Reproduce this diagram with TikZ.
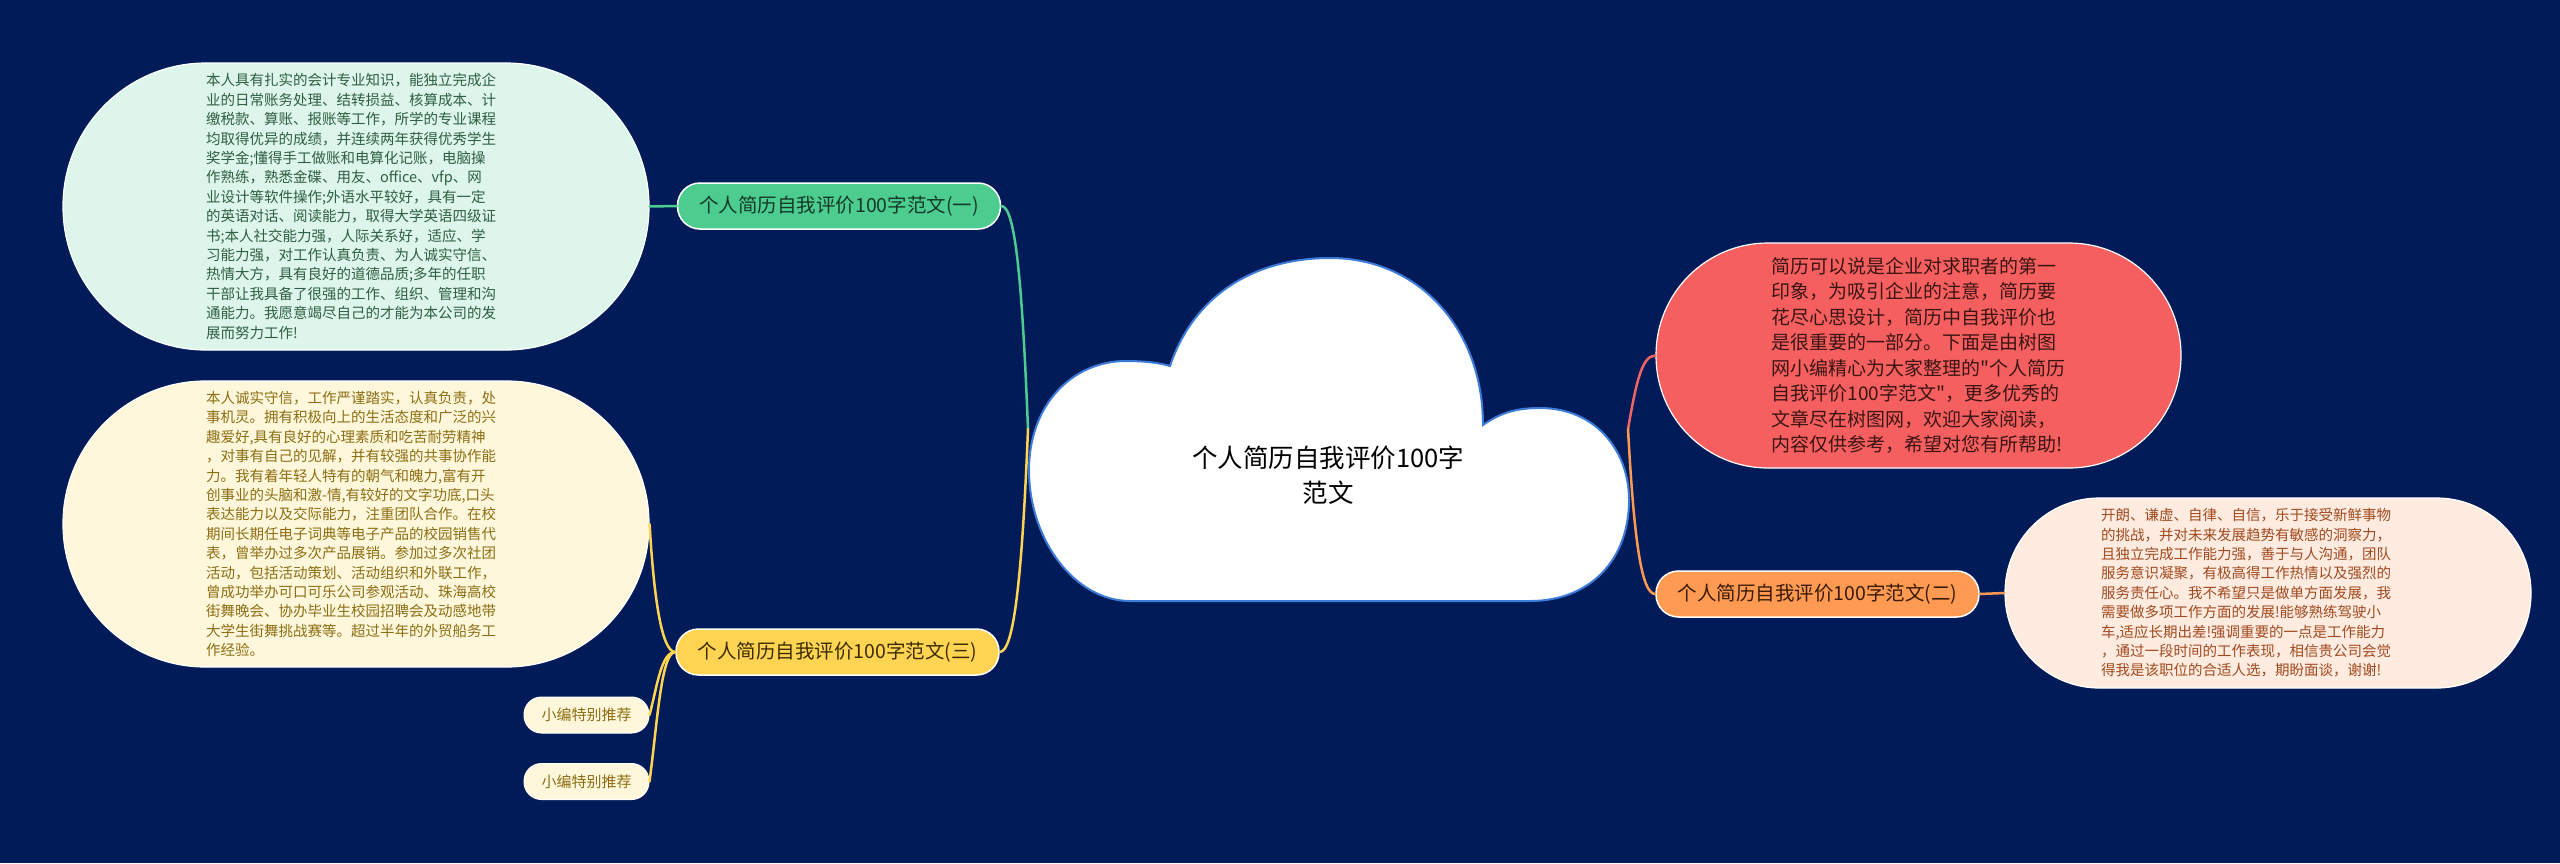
\documentclass[tikz,border=0pt]{standalone}
\usepackage{fontspec}
\newfontfamily\cjk{Noto Sans CJK SC}
\usetikzlibrary{calc}
\definecolor{bg}{HTML}{001B57}
\definecolor{cloudline}{HTML}{3D7BD9}
\definecolor{gnode}{HTML}{4CCD8F}
\definecolor{gleaf}{HTML}{DDF5EA}
\definecolor{gtext}{HTML}{2E5E43}
\definecolor{gntext}{HTML}{163826}
\definecolor{ynode}{HTML}{FFD452}
\definecolor{yleaf}{HTML}{FFF7DC}
\definecolor{ytext}{HTML}{8C6E12}
\definecolor{yntext}{HTML}{3A2C00}
\definecolor{rleaf}{HTML}{F65F5F}
\definecolor{rtext}{HTML}{3B1414}
\definecolor{rline}{HTML}{EE6565}
\definecolor{onode}{HTML}{FF9A52}
\definecolor{oleaf}{HTML}{FFEBE0}
\definecolor{otext}{HTML}{A04A1E}
\definecolor{ontext}{HTML}{3A1A05}
\tikzset{
  leafbox/.style={rectangle, draw=white, line width=1.2pt, inner sep=0pt, align=left,
    font=\cjk\fontsize{14.5}{19.4}\selectfont},
  topicbox/.style={rectangle, draw=white, line width=1.5pt, inner sep=0pt,
    minimum width=323, minimum height=46, rounded corners=22.5,
    font=\cjk\fontsize{19.5}{24}\selectfont},
  tagbox/.style={rectangle, draw=white, line width=1pt, inner sep=0pt,
    minimum width=125, minimum height=36, rounded corners=17.5,
    fill=yleaf, text=ytext, font=\cjk\fontsize{15}{18}\selectfont},
  link/.style={line width=2.5pt, line cap=round}
}
\begin{document}
\begin{tikzpicture}[x=1pt,y=-1pt]
\fill[bg] (0,0) rectangle (2560,863);
\useasboundingbox (0,0) rectangle (2560,863);

% cloud
\filldraw[fill=white, draw=cloudline, line width=2pt]
  (1130,601) .. controls (1075,601) and (1029,540) .. (1029,470)
  .. controls (1029,405) and (1072,361) .. (1126,361)
  .. controls (1145,361) and (1160,363) .. (1170,366)
  .. controls (1195,292) and (1258,258) .. (1330,258)
  .. controls (1420,258) and (1483,330) .. (1483,425)
  .. controls (1500,413) and (1516,408) .. (1540,408)
  .. controls (1595,408) and (1629,450) .. (1629,500)
  .. controls (1629,560) and (1590,601) .. (1530,601) -- cycle;
\node[font=\cjk\fontsize{25.5}{35}\selectfont, align=center, text=black] (root) at (1328,475)
  {个人简历自我评价100字\\范文};
\coordinate (jl) at (1028,429);
\coordinate (jr) at (1628,429);

% topic nodes
\node[topicbox, fill=gnode, text=gntext] (n1) at (839,206) {个人简历自我评价100字范文(一)};
\node[topicbox, fill=onode, text=ontext] (n2) at (1817.5,594) {个人简历自我评价100字范文(二)};
\node[topicbox, fill=ynode, text=yntext] (n3) at (837.5,652) {个人简历自我评价100字范文(三)};

% leaves
\node[leafbox, fill=gleaf, text=gtext, text width=300, minimum width=586, minimum height=287, rounded corners=143] (l1) at (356,206.5)
{本人具有扎实的会计专业知识，能独立完成企\\
业的日常账务处理、结转损益、核算成本、计\\
缴税款、算账、报账等工作，所学的专业课程\\
均取得优异的成绩，并连续两年获得优秀学生\\
奖学金;懂得手工做账和电算化记账，电脑操\\
作熟练，熟悉金碟、用友、office、vfp、网\\
业设计等软件操作;外语水平较好，具有一定\\
的英语对话、阅读能力，取得大学英语四级证\\
书;本人社交能力强，人际关系好，适应、学\\
习能力强，对工作认真负责、为人诚实守信、\\
热情大方，具有良好的道德品质;多年的任职\\
干部让我具备了很强的工作、组织、管理和沟\\
通能力。我愿意竭尽自己的才能为本公司的发\\
展而努力工作!};

\node[leafbox, fill=yleaf, text=ytext, text width=300, minimum width=586, minimum height=286, rounded corners=142.5] (l3) at (356,524)
{本人诚实守信，工作严谨踏实，认真负责，处\\
事机灵。拥有积极向上的生活态度和广泛的兴\\
趣爱好,具有良好的心理素质和吃苦耐劳精神\\
，对事有自己的见解，并有较强的共事协作能\\
力。我有着年轻人特有的朝气和魄力,富有开\\
创事业的头脑和激-情,有较好的文字功底,口头\\
表达能力以及交际能力，注重团队合作。在校\\
期间长期任电子词典等电子产品的校园销售代\\
表，曾举办过多次产品展销。参加过多次社团\\
活动，包括活动策划、活动组织和外联工作，\\
曾成功举办可口可乐公司参观活动、珠海高校\\
街舞晚会、协办毕业生校园招聘会及动感地带\\
大学生街舞挑战赛等。超过半年的外贸船务工\\
作经验。};

\node[leafbox, fill=rleaf, text=rtext, minimum width=525, minimum height=225, rounded corners=112,
  font=\cjk\fontsize{19}{25.5}\selectfont] (lr) at (1918.5,355.5)
{简历可以说是企业对求职者的第一\\
印象，为吸引企业的注意，简历要\\
花尽心思设计，简历中自我评价也\\
是很重要的一部分。下面是由树图\\
网小编精心为大家整理的"个人简历\\
自我评价100字范文"，更多优秀的\\
文章尽在树图网，欢迎大家阅读，\\
内容仅供参考，希望对您有所帮助!};

\node[leafbox, fill=oleaf, text=otext, text width=334, minimum width=526, minimum height=190, rounded corners=94.5] (l2) at (2268,593)
{开朗、谦虚、自律、自信，乐于接受新鲜事物\\
的挑战，并对未来发展趋势有敏感的洞察力，\\
且独立完成工作能力强，善于与人沟通，团队\\
服务意识凝聚，有极高得工作热情以及强烈的\\
服务责任心。我不希望只是做单方面发展，我\\
需要做多项工作方面的发展!能够熟练驾驶小\\
车,适应长期出差!强调重要的一点是工作能力\\
，通过一段时间的工作表现，相信贵公司会觉\\
得我是该职位的合适人选，期盼面谈，谢谢!};

\node[tagbox] (x1) at (586.5,715) {小编特别推荐};
\node[tagbox] (x2) at (586.5,781.5) {小编特别推荐};

% connectors
\draw[link, gnode] (jl) .. controls +(-6,-150) and +(14,0) .. (n1.east);
\draw[link, ynode] (jl) .. controls +(-6,150) and +(14,0) .. (n3.east);
\draw[link, rline] (jr) .. controls +(8,-45) and +(-14,0) .. (lr.west);
\draw[link, onode] (jr) .. controls +(6,110) and +(-14,0) .. (n2.west);
\draw[link, gnode] (n1.west) -- (l1.east);
\draw[link, onode] (n2.east) -- (l2.west);
\draw[link, ynode] (n3.west) .. controls +(-14,0) and +(4,70) .. (l3.east);
\draw[link, ynode] (n3.west) .. controls +(-14,0) and +(8,-30) .. (x1.east);
\draw[link, ynode] (n3.west) .. controls +(-14,0) and +(8,-60) .. (x2.east);
\end{tikzpicture}
\end{document}
